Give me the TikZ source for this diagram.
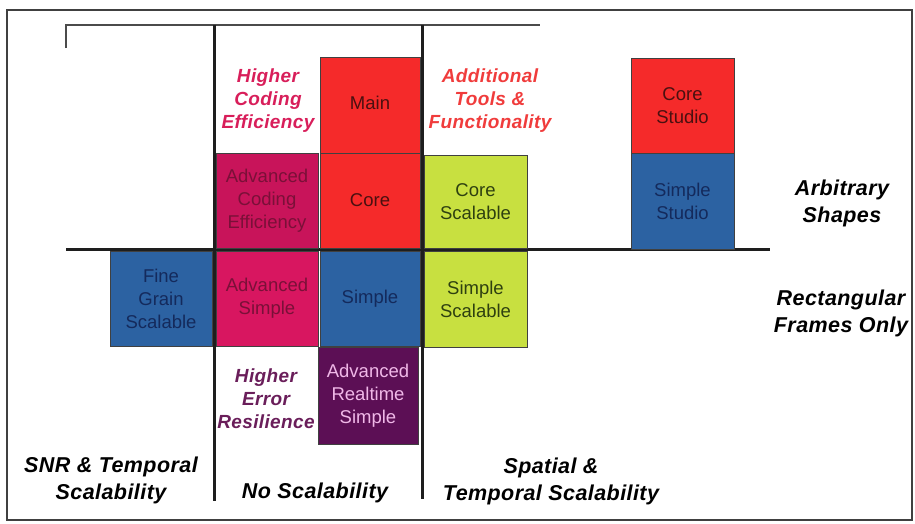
\documentclass[tikz,border=0pt]{standalone}
\usepackage{fontspec}
\setmainfont{Liberation Sans}
\newfontfamily\labfont[LetterSpace=2]{Liberation Sans}
\definecolor{mred}{HTML}{F52A2A}
\definecolor{mcrim}{HTML}{C8145A}
\definecolor{mcrimb}{HTML}{D81660}
\definecolor{mblue}{HTML}{2C62A2}
\definecolor{mlime}{HTML}{C8E040}
\definecolor{mpurp}{HTML}{5C0F55}
\definecolor{tred}{HTML}{4A1010}
\definecolor{tcrim}{HTML}{7A1038}
\definecolor{tblue}{HTML}{142A5C}
\definecolor{tlime}{HTML}{2E4010}
\definecolor{tpurp}{HTML}{F0B8E8}
\definecolor{lcrim}{HTML}{D81E5A}
\definecolor{lred}{HTML}{F03C3C}
\definecolor{lpurp}{HTML}{6A1E5A}
\definecolor{edge}{HTML}{1E1E1E}
\begin{document}
\begin{tikzpicture}[x=1pt,y=-1pt,
  box/.style={draw=edge!85,line width=0.8pt,inner sep=0pt,align=center,
    font=\fontsize{18.5}{23}\selectfont},
  sz/.style 2 args={minimum width=#1pt,minimum height=#2pt},
  lab/.style={align=center,inner sep=0pt,font=\labfont\bfseries\itshape\fontsize{19}{23}\selectfont},
  biglab/.style={align=center,inner sep=0pt,font=\labfont\bfseries\itshape\fontsize{21.5}{27}\selectfont},
  axis/.style={draw=edge,line width=3pt},
  thin/.style={draw=edge!80,line width=1.5pt}]
\useasboundingbox (0,0) rectangle (915,523);
% outer frame
\draw[edge!85,line width=1.8pt] (7,10) rectangle (912,520);
% inner top line
\coordinate (tl0) at (66,48);
\coordinate (tl1) at (66,25);
\coordinate (tl2) at (540,25);
\draw[thin] (tl0) -- (tl1) -- (tl2);
% axes
\coordinate (v1a) at (214,25);
\coordinate (v1b) at (214,501);
\coordinate (v2a) at (422,25);
\coordinate (v2b) at (422,499);
\coordinate (ha) at (66,249.5);
\coordinate (hb) at (770,249.5);
\draw[axis] (v1a) -- (v1b);
\draw[axis] (v2a) -- (v2b);
\draw[axis] (ha) -- (hb);
% boxes
\node[box,sz={100}{96},fill=mred,text=tred] (main) at (370,105) {\raisebox{5pt}{Main}};
\node[box,sz={102}{95},fill=mcrim,text=tcrim] (ace) at (267,200.5) {Advanced\\Coding\\Efficiency};
\node[box,sz={100}{95},fill=mred,text=tred] (core) at (370,200.5) {Core};
\node[box,sz={103}{93},fill=mlime,text=tlime] (cs) at (475.5,201.5) {Core\\Scalable};
\node[box,sz={103}{95},fill=mred,text=tred] (cst) at (682.5,105.5) {Core\\Studio};
\node[box,sz={103}{96},fill=mblue,text=tblue] (sst) at (682.5,201) {Simple\\Studio};
\node[box,sz={102}{95},fill=mblue,text=tblue] (fgs) at (161,298.5) {Fine\\Grain\\Scalable};
\node[box,sz={102}{95},fill=mcrimb,text=tcrim] (as) at (267,298.5) {Advanced\\Simple};
\node[box,sz={100}{95},fill=mblue,text=tblue] (simple) at (370,298.5) {Simple};
\node[box,sz={103}{96},fill=mlime,text=tlime] (ss) at (475.5,299) {Simple\\Scalable};
\node[box,sz={100}{97},fill=mpurp,text=tpurp] (ars) at (368,395.5) {Advanced\\Realtime\\Simple};
% labels
\node[lab,text=lcrim] (hce) at (268,101) {Higher\\Coding\\Efficiency};
\node[lab,text=lred] (atf) at (490,101) {Additional\\Tools \&\\Functionality};
\node[lab,text=lpurp] (her) at (266,399) {Higher\\Error\\Resilience};
\node[biglab] (arb) at (842,203) {Arbitrary\\Shapes};
\node[biglab] (rect) at (841,313) {Rectangular\\Frames Only};
\node[biglab] (snr) at (111,480) {SNR \& Temporal\\Scalability};
\node[biglab] (nos) at (315,493) {No Scalability};
\node[biglab] (spt) at (551,481) {Spatial \&\\Temporal Scalability};
\end{tikzpicture}
\end{document}
